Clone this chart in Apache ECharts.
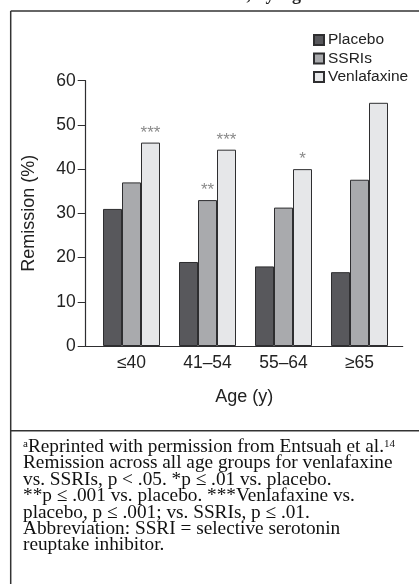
<!DOCTYPE html>
<html><head><meta charset="utf-8">
<script src="https://cdn.jsdelivr.net/npm/echarts@6/dist/echarts.min.js"></script>
<style>html,body{margin:0;padding:0;background:#fff}#c{width:419px;height:584px}</style>
</head><body><div id="c"></div>
<script>
var categories = ['≤40', '41–54', '55–64', '≥65'];
var seriesNames = ['Placebo', 'SSRIs', 'Venlafaxine'];
var placebo = [31, 19, 18, 16.7];
var ssris = [37, 33, 31.3, 37.6];
var venlafaxine = [46, 44.4, 40, 55];
var ssriMarks = ['', '**', '', ''];
var venlaMarks = ['***', '***', '*', ''];
var yTicks = {min: 0, max: 60, interval: 10};
var captionLines = [
  '{sup|a}Reprinted with permission from Entsuah et al.{sup|14}',
  'Remission across all age groups for venlafaxine',
  'vs. SSRIs, p < .05. *p ≤ .01 vs. placebo.',
  '**p ≤ .001 vs. placebo. ***Venlafaxine vs.',
  'placebo, p ≤ .001; vs. SSRIs, p ≤ .01.',
  'Abbreviation: SSRI = selective serotonin',
  'reuptake inhibitor.'
];

var colors = ['#58585c', '#a9aaad', '#e6e7e9'];
var sans = 'Liberation Sans, Arial, sans-serif';
var serif = 'Liberation Serif, Times New Roman, serif';
var chart = echarts.init(document.getElementById('c'));

function barSeries(name, data, color, marks) {
  return {
    name: name, type: 'bar', xAxisIndex: 1, yAxisIndex: 1,
    data: data, barGap: '0%', barCategoryGap: '25%',
    itemStyle: {color: color, borderColor: '#2e2e30', borderWidth: 1},
    label: marks ? {
      show: true, position: 'top', distance: 1,
      color: '#8a8a8a', fontFamily: sans, fontSize: 17,
      formatter: function (p) { return marks[p.dataIndex]; }
    } : {show: false},
    emphasis: {disabled: true}
  };
}

var option = {
  animation: false,
  legend: {
    orient: 'vertical', left: 308, top: 27,
    itemWidth: 10, itemHeight: 10, itemGap: 2.5,
    icon: 'rect',
    textStyle: {fontFamily: sans, fontSize: 15.5, color: '#222', lineHeight: 15, padding: [0, 0, 0, -1]},
    data: seriesNames
  },
  grid: [
    {left: 85.7, right: 16.3, top: 80.7, bottom: 238},
    {left: 93.5, right: 21.5, top: 80.7, bottom: 238}
  ],
  xAxis: [
    {type: 'category', gridIndex: 0, data: categories,
     axisLine: {show: true, lineStyle: {color: '#2e2e30', width: 1.2}},
     axisTick: {show: false}, axisLabel: {show: false},
     name: 'Age (y)', nameLocation: 'middle', nameGap: 42,
     nameTextStyle: {fontFamily: sans, fontSize: 18, color: '#222'}},
    {type: 'category', gridIndex: 1, data: categories,
     axisLine: {show: false}, axisTick: {show: false},
     axisLabel: {fontFamily: sans, fontSize: 17.5, color: '#222', margin: 8}}
  ],
  yAxis: [
    {type: 'value', gridIndex: 0, min: yTicks.min, max: yTicks.max, interval: yTicks.interval,
     axisLine: {show: true, lineStyle: {color: '#2e2e30', width: 1.2}},
     axisTick: {show: true, length: 8, lineStyle: {color: '#2e2e30'}},
     splitLine: {show: false},
     axisLabel: {fontFamily: sans, fontSize: 17.5, color: '#222', margin: 10},
     name: 'Remission (%)', nameLocation: 'middle', nameGap: 48, nameRotate: 90,
     nameTextStyle: {fontFamily: sans, fontSize: 18, color: '#222'}},
    {type: 'value', gridIndex: 1, min: yTicks.min, max: yTicks.max, interval: yTicks.interval,
     show: false, splitLine: {show: false}}
  ],
  series: [
    barSeries(seriesNames[0], placebo, colors[0], null),
    barSeries(seriesNames[1], ssris, colors[1], ssriMarks),
    barSeries(seriesNames[2], venlafaxine, colors[2], venlaMarks)
  ],
  graphic: [
    {type: 'line', shape: {x1: 10.7, y1: 11, x2: 419, y2: 11}, style: {stroke: '#333', lineWidth: 1.5}, silent: true},
    {type: 'line', shape: {x1: 10.7, y1: 11, x2: 10.7, y2: 584}, style: {stroke: '#333', lineWidth: 1.5}, silent: true},
    {type: 'line', shape: {x1: 10.7, y1: 430.7, x2: 419, y2: 430.7}, style: {stroke: '#333', lineWidth: 1.5}, silent: true},
    {type: 'text', left: 120, top: -14,
     style: {text: 'Remission Rates, by Age', font: 'bold 18px ' + serif, fill: '#222'}},
    {type: 'text', left: 23, top: 437.5,
     style: {text: captionLines.join('\n'), font: '19.3px ' + serif, fill: '#111', lineHeight: 16.4,
       rich: {sup: {fontSize: 11, verticalAlign: 'top', padding: [0, 0, 7, 0], fontFamily: serif, fill: '#111', lineHeight: 16.4}}}}
  ]
};
chart.setOption(option);
</script></body></html>
